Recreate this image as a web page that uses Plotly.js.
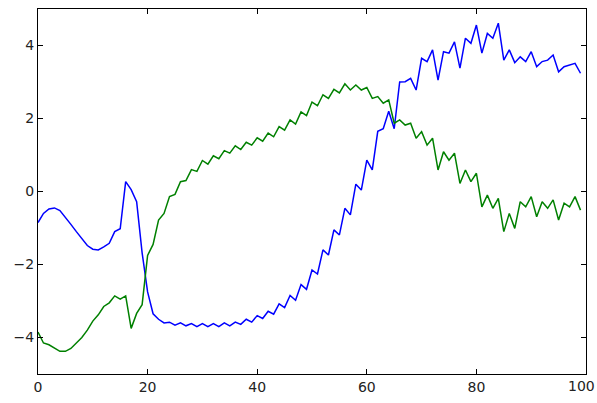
<!DOCTYPE html>
<html>
<head>
<meta charset="utf-8">
<script src="https://cdn.plot.ly/plotly-3.0.1.min.js"></script>
<style>html,body{margin:0;padding:0;background:#fff;}#chart{width:597px;height:403px;}</style>
</head>
<body>
<div id="chart"></div>
<script>
const xValues = Array.from({length: 100}, (_, i) => i);

const blueSeries = [
  -0.85, -0.6, -0.48, -0.45, -0.52, -0.7, -0.9, -1.1, -1.3, -1.48,
  -1.58, -1.6, -1.52, -1.42, -1.1, -1.02, 0.27, 0.05, -0.28, -1.68,
  -2.75, -3.35, -3.5, -3.6, -3.58, -3.66, -3.6, -3.68, -3.62, -3.7,
  -3.62, -3.7, -3.62, -3.7, -3.6, -3.68, -3.58, -3.64, -3.5, -3.58,
  -3.4, -3.48, -3.28, -3.36, -3.08, -3.18, -2.85, -2.98, -2.55, -2.68,
  -2.15, -2.26, -1.6, -1.74, -1.05, -1.19, -0.46, -0.64, 0.2, 0.04,
  0.86, 0.59, 1.65, 1.72, 2.2, 1.72, 3.0, 3.01, 3.1, 2.78,
  3.65, 3.56, 3.88, 3.05, 3.83, 3.79, 4.1, 3.38, 4.2, 4.06,
  4.56, 3.79, 4.33, 4.2, 4.61, 3.6, 3.88, 3.53, 3.69, 3.56,
  3.83, 3.42, 3.56, 3.6, 3.74, 3.28, 3.42, 3.47, 3.51, 3.24
];

const greenSeries = [
  -3.85, -4.15, -4.2, -4.3, -4.38, -4.38, -4.3, -4.15, -4.0, -3.8,
  -3.55, -3.38, -3.15, -3.05, -2.86, -2.95, -2.86, -3.75, -3.34, -3.1,
  -1.75, -1.45, -0.78, -0.6, -0.14, -0.08, 0.27, 0.3, 0.6, 0.55,
  0.85, 0.75, 0.98, 0.9, 1.12, 1.05, 1.25, 1.15, 1.35, 1.27,
  1.47, 1.38, 1.6, 1.5, 1.78, 1.68, 1.96, 1.85, 2.18, 2.08,
  2.45, 2.35, 2.65, 2.55, 2.8, 2.7, 2.95, 2.78, 2.92, 2.78,
  2.85, 2.55, 2.6, 2.42, 2.51, 1.87, 1.96, 1.82, 1.87, 1.46,
  1.64, 1.27, 1.46, 0.59, 1.09, 0.86, 1.05, 0.22, 0.59, 0.27,
  0.5, -0.42, -0.1, -0.46, -0.19, -1.1, -0.6, -1.01, -0.28, -0.42,
  -0.14, -0.69, -0.28, -0.46, -0.23, -0.78, -0.32, -0.42, -0.14, -0.51
];

const xTicks = [0, 20, 40, 60, 80, 100];
const xTickLabels = ['0', '20', '40', '60', '80', '100'];
const yTicks = [-4, -2, 0, 2, 4];

const traces = [
  {x: xValues, y: blueSeries, type: 'scatter', mode: 'lines', line: {color: '#0000ff', width: 1.5}, hoverinfo: 'skip'},
  {x: xValues, y: greenSeries, type: 'scatter', mode: 'lines', line: {color: '#008000', width: 1.5}, hoverinfo: 'skip'}
];

const tickFont = {family: 'DejaVu Sans', size: 14, color: '#222'};

const axisCommon = {
  showgrid: false, zeroline: false, showline: true, linecolor: '#000', linewidth: 1,
  mirror: 'ticks', ticks: 'inside', ticklen: 5, tickwidth: 1, tickcolor: '#000',
  tickfont: tickFont
};

// The last x label sits at the right edge of the figure; draw it as a
// right-anchored annotation so that it stays fully inside the page.
const lastIdx = xTicks.length - 1;
const shownXLabels = xTickLabels.map((t, i) => i === lastIdx ? '' : t);

const layout = {
  width: 597, height: 403,
  margin: {l: 38, r: 11, t: 9, b: 29},
  paper_bgcolor: '#fff', plot_bgcolor: '#fff',
  showlegend: false,
  xaxis: Object.assign({}, axisCommon, {range: [0, 100], tickmode: 'array', tickvals: xTicks, ticktext: shownXLabels}),
  yaxis: Object.assign({}, axisCommon, {range: [-5, 5], tickmode: 'array', tickvals: yTicks, ticktext: yTicks.map(v => v < 0 ? '\u2212' + Math.abs(v) : String(v))}),
  annotations: [{
    x: xTicks[lastIdx], xref: 'x', y: 0, yref: 'paper',
    xanchor: 'right', yanchor: 'top', xshift: 10, yshift: -3,
    text: xTickLabels[lastIdx], showarrow: false, font: tickFont, borderpad: 0
  }]
};

Plotly.newPlot('chart', traces, layout, {staticPlot: true, displayModeBar: false});
</script>
</body>
</html>
